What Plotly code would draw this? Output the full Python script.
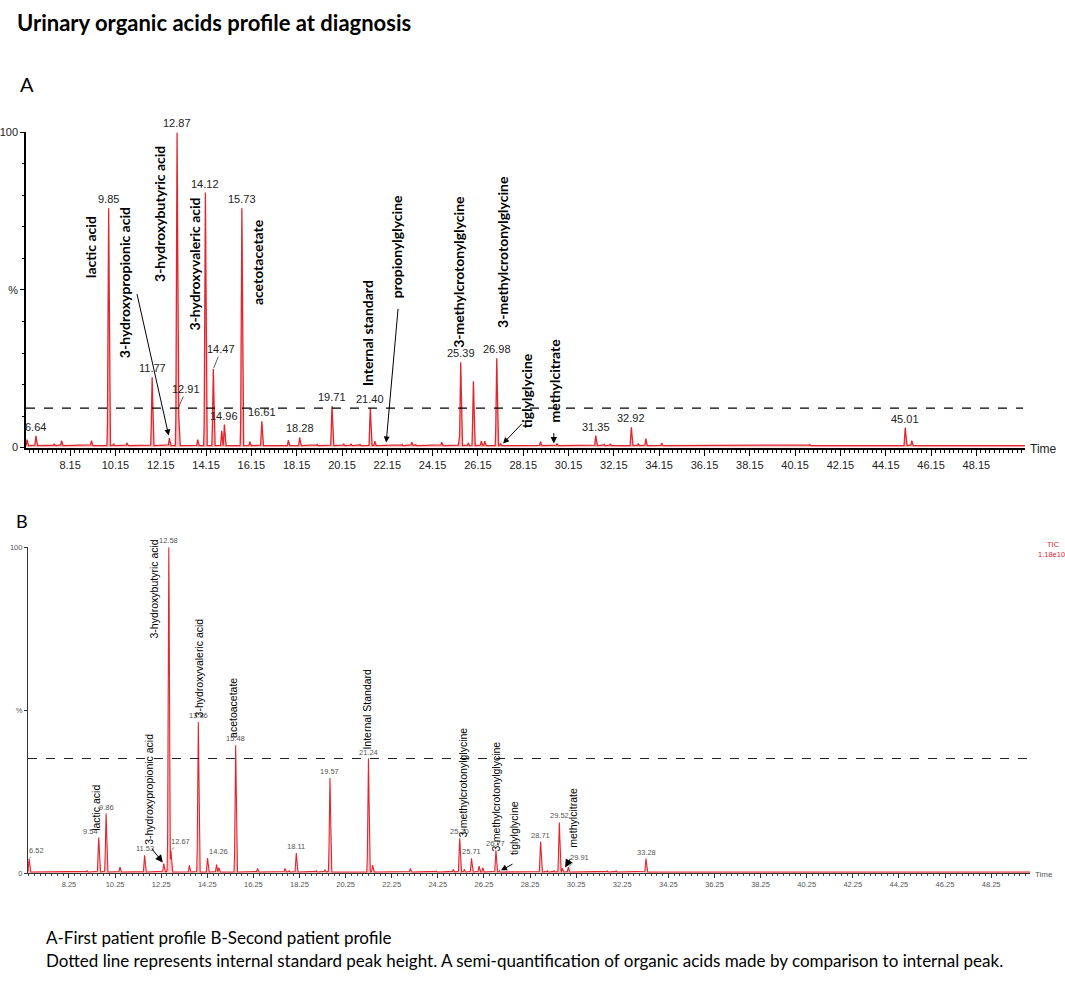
import numpy as np
import plotly.graph_objects as go

W, H = 1065, 982

# Panel A - first patient: retention time (min) and % of base peak
a_rt = [6.25, 6.64, 7.45, 7.77, 9.09, 9.85, 10.07, 10.66, 11.26, 11.77,
        12.53, 12.87, 12.93, 13.78, 14.12, 14.47, 14.84, 14.96, 15.73, 16.08,
        16.61, 17.78, 18.28, 19.05, 19.71, 20.22, 20.55, 20.94, 21.40, 21.60,
        22.48, 22.80, 23.23, 23.40, 24.55, 25.32, 25.39, 25.72, 25.95, 26.30,
        26.45, 26.98, 27.15, 28.91, 29.64, 31.35, 31.72, 32.00, 32.92, 33.23,
        33.56, 34.26, 36.36, 38.66, 40.80, 45.01, 45.30, 47.70, 48.70]
a_pct = [2.5, 3.7, 1.2, 2.2, 2.2, 75.9, 1.2, 1.5, 0.8, 22.3,
         3.0, 100, 12.6, 2.5, 80.9, 24.9, 5.3, 7.3, 75.9, 1.9,
         8.3, 2.3, 3.2, 1.0, 13.2, 1.2, 1.2, 1.0, 12.5, 2.0,
         0.8, 1.0, 1.7, 1.0, 1.7, 2.0, 27.1, 1.5, 21.0, 2.1,
         2.0, 28.3, 1.3, 1.9, 1.3, 3.8, 1.0, 1.2, 6.4, 1.3,
         2.8, 1.4, 0.8, 0.5, 1.0, 6.3, 2.2, 0.6, 0.5]
a_ticks = [8.15, 10.15, 12.15, 14.15, 16.15, 18.15, 20.15, 22.15, 24.15, 26.15,
           28.15, 30.15, 32.15, 34.15, 36.15, 38.15, 40.15, 42.15, 44.15, 46.15, 48.15]
a_istd = 21.40
# labelled peaks: position in the trace and printed retention time
a_tag_rt = [6.64, 9.85, 11.77, 12.87, 14.12, 14.96, 15.73, 16.61, 18.28, 19.71,
            21.40, 25.39, 26.98, 31.35, 32.92, 45.01]
a_lead_rt = [12.93, 14.47]
a_lead_text = ["12.91", "14.47"]
a_names = ["lactic acid", "3-hydroxypropionic acid", "3-hydroxybutyric acid",
           "3-hydroxyvaleric acid", "acetotacetate", "Internal standard",
           "propionylglycine", "3-methylcrotonylglycine", "3-methylcrotonylglycine",
           "tiglylglycine", "methylcitrate"]

# Panel B - second patient
b_rt = [6.52, 9.03, 9.54, 9.86, 10.46, 11.53, 12.36, 12.58, 12.67, 13.47,
        13.86, 14.26, 14.65, 14.75, 15.48, 16.43, 17.62, 17.80, 18.11, 18.98,
        19.35, 19.57, 21.24, 21.42, 22.44, 22.75, 23.06, 24.18, 24.92, 25.20,
        25.40, 25.71, 26.04, 26.20, 26.77, 26.92, 28.71, 29.00, 29.29, 29.52,
        29.65, 29.91, 30.80, 31.60, 31.98, 33.28, 39.25, 39.90, 42.80, 44.30]
b_pct = [4.4, 0.8, 11.0, 18.3, 1.9, 5.5, 3.0, 100, 7.0, 2.4,
         46.4, 4.7, 2.7, 1.7, 39.3, 1.5, 1.5, 0.8, 6.2, 0.8,
         1.0, 29.2, 35.2, 2.5, 0.6, 0.6, 1.5, 0.7, 1.2, 10.7,
         1.2, 4.6, 2.2, 1.7, 7.0, 0.8, 9.7, 0.8, 0.8, 15.6,
         1.5, 1.9, 0.6, 0.7, 0.8, 4.5, 0.5, 0.6, 0.5, 0.6]
b_ticks = [8.25, 10.25, 12.25, 14.25, 16.25, 18.25, 20.25, 22.25, 24.25, 26.25,
           28.25, 30.25, 32.25, 34.25, 36.25, 38.25, 40.25, 42.25, 44.25, 46.25, 48.25]
b_istd = 21.24
b_tag_rt = [9.86, 11.53, 12.58, 13.86, 15.48, 18.11, 19.57, 21.24, 25.20, 25.71,
            26.77, 28.71, 29.52, 33.28]
b_lead_rt = [6.52, 9.54, 12.67, 14.26, 29.91]
b_names = ["lactic acid", "3-hydroxypropionic acid", "3-hydroxybutyric acid",
           "3-hydroxyvaleric acid", "acetoacetate", "Internal Standard",
           "3-methylcrotonylglycine", "3-methylcrotonylglycine",
           "tiglylglycine", "methylcitrate"]

NARROW = "Liberation Sans Narrow, Arial Narrow, Liberation Sans, Arial"
SMALL = "Liberation Sans, Arial"
CALIBRI = "Lato, Open Sans, sans-serif"
RED = "#e3262d"


def trace(rt, pct, lo, hi, base, sigma):
    # draw each listed peak as a thin spike over a flat baseline
    x = np.arange(int(lo * 200), int(hi * 200) + 1) / 200.0
    y = np.full_like(x, base)
    for t, h in zip(rt, pct):
        y = np.maximum(y, h * np.exp(-((x - t) ** 2) / (2 * sigma ** 2)))
    return x, y


def px(v):
    return v / W


def py(v):
    return 1 - v / H


fig = go.Figure()

xa, ya = trace(a_rt, a_pct, 6.2, 50.3, 0.6, 0.025)
fig.add_trace(go.Scatter(x=xa, y=ya, mode="lines", line=dict(color=RED, width=1.3),
                         fill="tozeroy", fillcolor="rgba(245,150,150,0.55)",
                         hoverinfo="skip", xaxis="x", yaxis="y"))
xb, yb = trace(b_rt, b_pct, 6.47, 49.94, 0.4, 0.025)
fig.add_trace(go.Scatter(x=xb, y=yb, mode="lines", line=dict(color=RED, width=1.1),
                         fill="tozeroy", fillcolor="rgba(245,150,150,0.5)",
                         hoverinfo="skip", xaxis="x2", yaxis="y2"))

a_h = dict(zip(a_rt, a_pct))
b_h = dict(zip(b_rt, b_pct))

# internal standard dashed reference lines
fig.add_shape(type="line", xref="x domain", yref="y", x0=0, x1=0.998,
              y0=a_h[a_istd], y1=a_h[a_istd], line=dict(color="black", width=1.3, dash="dash"))
fig.add_shape(type="line", xref="x2 domain", yref="y2", x0=0, x1=1.005,
              y0=b_h[b_istd], y1=b_h[b_istd], line=dict(color="#222", width=1.1, dash="dash"))

ann = []
# peak retention time tags
for t in a_tag_rt:
    ann.append(dict(x=t, y=a_h[t], xref="x", yref="y", text=f"{t:.2f}", showarrow=False,
                    yanchor="bottom", yshift=1, font=dict(family=NARROW, size=11, color="#222")))
for t, s, (dx, dy) in zip(a_lead_rt, a_lead_text, [(8, -19), (8, -20)]):
    ann.append(dict(x=t, y=a_h[t], xref="x", yref="y", text=s, showarrow=True,
                    arrowhead=0, arrowwidth=0.8, arrowcolor="#333", ax=dx, ay=dy, standoff=1,
                    font=dict(family=NARROW, size=11, color="#222")))
for t in b_tag_rt:
    ann.append(dict(x=t, y=b_h[t], xref="x2", yref="y2", text=f"{t:.2f}", showarrow=False,
                    yanchor="bottom", yshift=0, font=dict(family=SMALL, size=7.5, color="#555")))
for t, (dx, dy) in zip(b_lead_rt, [(7, -8), (-8, -6), (10, -9), (11, -6), (11, -10)]):
    ann.append(dict(x=t, y=b_h[t], xref="x2", yref="y2", text=f"{t:.2f}", showarrow=True,
                    arrowhead=0, arrowwidth=0.7, arrowcolor="#666", ax=dx, ay=dy, standoff=1,
                    font=dict(family=SMALL, size=7.5, color="#555")))

# compound names (rotated)
a_name_xy = [(9.02, 63.6), (10.56, 52.4), (12.10, 74.0), (13.65, 58.3), (16.42, 59.0),
             (21.31, 36.4), (22.54, 63.6), (25.32, 55.8), (27.26, 62.1), (28.27, 18.2),
             (29.51, 21.3)]
for name, (t, v) in zip(a_names, a_name_xy):
    ann.append(dict(x=t, y=v, xref="x", yref="y", text=f"<b>{name}</b>", textangle=-90,
                    showarrow=False, xanchor="center", yanchor="middle",
                    font=dict(family=CALIBRI, size=14, color="black")))
b_name_xy = [(9.41, 20.0), (11.75, 25.8), (11.93, 87.3), (13.87, 63.0), (15.39, 50.6),
             (21.19, 50.3), (25.35, 27.9), (26.78, 23.6), (27.56, 13.9), (30.11, 17.0)]
for name, (t, v) in zip(b_names, b_name_xy):
    ann.append(dict(x=t, y=v, xref="x2", yref="y2", text=name, textangle=-90,
                    showarrow=False, xanchor="center", yanchor="middle",
                    font=dict(family=NARROW, size=10.5, color="black")))

# pointer arrows
for xr, yr, t, v, dx, dy, sz in [("x", "y", 12.50, 3.8, -32, -143, 1.2),
                                 ("x", "y", 22.10, 1.6, 12, -135, 1.2),
                                 ("x", "y", 27.26, 1.3, 20, -21, 1.2),
                                 ("x", "y", 29.50, 1.3, 0, -12, 1.3),
                                 ("x2", "y2", 12.32, 3.3, -12, -15, 1.5),
                                 ("x2", "y2", 26.99, 0.9, 13, -7, 1.2),
                                 ("x2", "y2", 29.77, 1.8, 6, -10, 1.6)]:
    ann.append(dict(x=t, y=v, xref=xr, yref=yr, text="", showarrow=True, arrowhead=2,
                    arrowsize=sz, arrowwidth=1, arrowcolor="black", ax=dx, ay=dy, standoff=0))

# titles, panel letters, captions
ann += [
    dict(x=px(13), y=py(17), xref="paper", yref="paper", text="<b>Urinary organic acids profile at diagnosis</b>",
         showarrow=False, xanchor="left", yanchor="middle", font=dict(family=CALIBRI, size=22, color="black")),
    dict(x=px(16), y=py(79), xref="paper", yref="paper", text="A", showarrow=False,
         xanchor="left", yanchor="middle", font=dict(family=CALIBRI, size=20, color="black")),
    dict(x=px(12), y=py(521), xref="paper", yref="paper", text="B", showarrow=False,
         xanchor="left", yanchor="middle", font=dict(family=CALIBRI, size=18, color="black")),
    dict(x=px(1028), y=py(448), xref="paper", yref="paper", text="Time", showarrow=False,
         xanchor="left", yanchor="middle", font=dict(family=NARROW, size=12, color="#222")),
    dict(x=px(1033), y=py(879), xref="paper", yref="paper", text="Time", showarrow=False,
         xanchor="left", yanchor="middle", font=dict(family=SMALL, size=8, color="#555")),
    dict(x=px(1062), y=py(545), xref="paper", yref="paper", text="TIC", showarrow=False,
         xanchor="right", yanchor="middle", font=dict(family=SMALL, size=7.5, color=RED)),
    dict(x=px(1067), y=py(555), xref="paper", yref="paper", text="1.18e10", showarrow=False,
         xanchor="right", yanchor="middle", font=dict(family=SMALL, size=7.5, color=RED)),
    dict(x=px(42), y=py(943), xref="paper", yref="paper", text="A-First patient profile B-Second patient profile",
         showarrow=False, xanchor="left", yanchor="middle", font=dict(family=CALIBRI, size=17, color="black")),
    dict(x=px(42), y=py(966), xref="paper", yref="paper",
         text="Dotted line represents internal standard peak height. A semi-quantification of organic acids made by comparison to internal peak.",
         showarrow=False, xanchor="left", yanchor="middle", font=dict(family=CALIBRI, size=17, color="black")),
]

fig.update_layout(
    width=W, height=H, margin=dict(l=0, r=0, t=0, b=0),
    paper_bgcolor="white", plot_bgcolor="white", showlegend=False,
    annotations=ann,
    xaxis=dict(domain=[px(24), px(1025)], range=[6.2, 50.3], anchor="y",
               showline=True, linecolor="black", linewidth=2, showgrid=False, zeroline=False,
               tickmode="array", tickvals=a_ticks, ticktext=[f"{t:.2f}" for t in a_ticks],
               ticks="outside", ticklen=6, tickwidth=1, tickcolor="black",
               minor=dict(tickmode="linear", tick0=8.15, dtick=0.2, ticks="outside",
                          ticklen=3, tickwidth=1, tickcolor="black"),
               tickfont=dict(family=NARROW, size=11, color="#222")),
    yaxis=dict(domain=[py(447), py(128)], range=[0, 100], anchor="x",
               showline=True, linecolor="black", linewidth=1.5, showgrid=False, zeroline=False,
               tickmode="array", tickvals=[0, 50, 100], ticktext=["0", "%", "100"],
               ticks="outside", ticklen=4, tickcolor="black",
               minor=dict(tickmode="linear", tick0=0, dtick=10, ticks="outside", ticklen=2, tickcolor="black"),
               tickfont=dict(family=NARROW, size=11, color="#222")),
    xaxis2=dict(domain=[px(26), px(1030)], range=[6.47, 49.94], anchor="y2",
                showline=True, linecolor="#333", linewidth=1, showgrid=False, zeroline=False,
                tickmode="array", tickvals=b_ticks, ticktext=[f"{t:.2f}" for t in b_ticks],
                ticks="outside", ticklen=4, tickwidth=1, tickcolor="#333",
                minor=dict(tickmode="linear", tick0=8.25, dtick=0.25, ticks="outside",
                           ticklen=2, tickwidth=1, tickcolor="#444"),
                tickfont=dict(family=SMALL, size=7.5, color="#555")),
    yaxis2=dict(domain=[py(878), py(548)], range=[0, 100], anchor="x2",
                showline=True, linecolor="#333", linewidth=1, showgrid=False, zeroline=False,
                tickmode="array", tickvals=[0, 50, 100], ticktext=["0", "%", "100"],
                ticks="outside", ticklen=3, tickcolor="#333",
                tickfont=dict(family=SMALL, size=7.5, color="#555")),
)

fig.write_html("out.html", config={"displayModeBar": False},
               post_script="document.body.style.margin='0';")
